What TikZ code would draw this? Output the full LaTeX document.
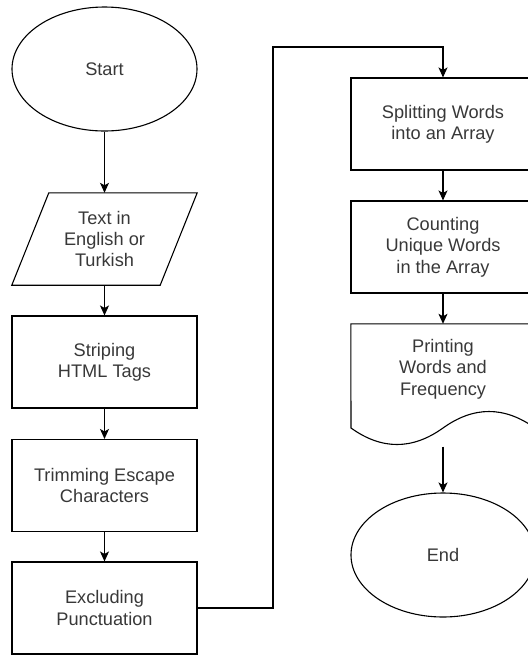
\documentclass[tikz,border=0pt]{standalone}
\usepackage{fontspec}
\setmainfont{Liberation Sans}
\usetikzlibrary{shapes.geometric,arrows.meta,calc}
\begin{document}
\begin{tikzpicture}[x=1pt,y=-1pt,
  every node/.style={font=\fontsize{18.2}{21.3}\selectfont, text=black!78, align=center},
  term/.style={ellipse, draw, line width=1.1pt, inner sep=0pt, minimum width=185pt, minimum height=124pt},
  procbox/.style={rectangle, draw, line width=1.1pt, inner sep=0pt, minimum width=185pt, minimum height=92pt},
  plain/.style={inner sep=0pt, minimum width=185pt, minimum height=92pt},
  flow/.style={line width=1.1pt, -{Stealth[length=10pt,width=9pt,inset=2.5pt]}},
  outline/.style={line width=1.1pt, line join=miter}
]
\useasboundingbox (0,0) rectangle (528,657);
\clip (0,0) rectangle (528,657);

% left column
\node[term] (start) at (104.5,69) {Start};
\node[plain] (input) at (104.5,239) {Text in\\English or\\Turkish};
\draw[outline] ($(input.north west)+(37,0)$) -- (input.north east)
  -- ($(input.south east)+(-37,0)$) -- (input.south west) -- cycle;
\node[procbox] (strip) at (104.5,362) {Striping\\HTML Tags};
\node[procbox] (trim) at (104.5,485.5) {Trimming Escape\\Characters};
\node[procbox] (excl) at (104.5,608) {Excluding\\Punctuation};

% right column
\node[procbox, minimum width=184pt] (split) at (443,124) {Splitting Words\\into an Array};
\node[procbox, minimum width=184pt] (count) at (443,247) {Counting\\Unique Words\\in the Array};
\node[inner sep=0pt, minimum width=184pt, minimum height=122.4pt] (print) at (443,385.2) {};
\node at (443,369) {Printing\\Words and\\Frequency};
\draw[outline] (print.north west) -- (print.north east) -- (535,428)
  .. controls (504.3,406) and (473.7,406) .. (443,428)
  .. controls (412.3,450) and (381.7,450) .. (351,428) -- cycle;
\node[term, minimum width=184pt] (end) at (443,555) {End};

% connectors
\coordinate (bend) at (273,47);
\draw[flow] (start) -- (input);
\draw[flow] (input.south -| start) -- (strip);
\draw[flow] (strip) -- (trim);
\draw[flow] (trim) -- (excl);
\draw[flow] (excl.east) -| (bend) -| (split.north);
\draw[flow] (split) -- (count);
\draw[flow] (count) -- (print.north);
\draw[flow] (print.south) -- (end);
\end{tikzpicture}
\end{document}
